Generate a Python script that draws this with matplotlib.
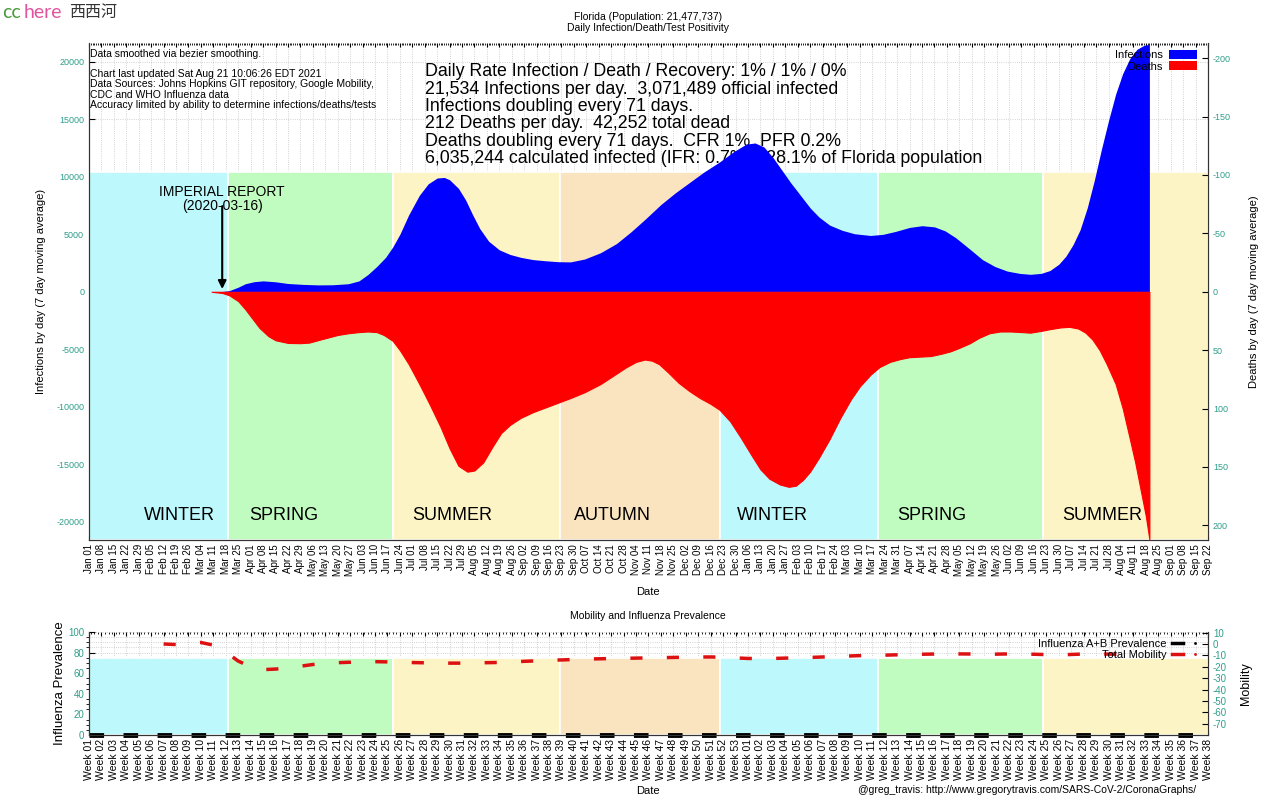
import numpy as np
import pandas as pd
import matplotlib
matplotlib.use('Agg')
import matplotlib.pyplot as plt
import matplotlib.dates as mdates
from matplotlib.patches import Rectangle, Patch
from matplotlib.lines import Line2D
from matplotlib.legend_handler import HandlerTuple

plt.rcParams['font.family'] = ['Liberation Sans', 'DejaVu Sans']
plt.rcParams['axes.unicode_minus'] = False

# ---- data ----
inf_dates = ['2020-03-10', '2020-03-16', '2020-03-20', '2020-03-25', '2020-03-29', '2020-04-03',
             '2020-04-08', '2020-04-15', '2020-04-22', '2020-05-01', '2020-05-09', '2020-05-17',
             '2020-05-26', '2020-06-01', '2020-06-06', '2020-06-11', '2020-06-16', '2020-06-20',
             '2020-06-24', '2020-06-29', '2020-07-05', '2020-07-10', '2020-07-15', '2020-07-19',
             '2020-07-22', '2020-07-27', '2020-07-31', '2020-08-04', '2020-08-08', '2020-08-13',
             '2020-08-19', '2020-08-25', '2020-08-31', '2020-09-07', '2020-09-14', '2020-09-21',
             '2020-09-28', '2020-10-06', '2020-10-15', '2020-10-24', '2020-11-01', '2020-11-09',
             '2020-11-18', '2020-11-26', '2020-12-04', '2020-12-12', '2020-12-21', '2020-12-29',
             '2021-01-05', '2021-01-10', '2021-01-15', '2021-01-20', '2021-01-25', '2021-01-30',
             '2021-02-05', '2021-02-10', '2021-02-15', '2021-02-21', '2021-02-28', '2021-03-07',
             '2021-03-16', '2021-03-23', '2021-03-30', '2021-04-07', '2021-04-14', '2021-04-21',
             '2021-04-27', '2021-05-03', '2021-05-11', '2021-05-18', '2021-05-25', '2021-06-01',
             '2021-06-08', '2021-06-14', '2021-06-20', '2021-06-25', '2021-06-30', '2021-07-04',
             '2021-07-08', '2021-07-12', '2021-07-16', '2021-07-20', '2021-07-24', '2021-07-28',
             '2021-08-01', '2021-08-05', '2021-08-09', '2021-08-13', '2021-08-17', '2021-08-20']
infections = [0, 20, 100, 400, 700, 880,
              950, 870, 720, 640, 600, 610,
              700, 950, 1500, 2200, 3000, 3900,
              5000, 6700, 8400, 9400, 9900, 9950,
              9750, 9000, 8000, 6700, 5500, 4400,
              3650, 3250, 3000, 2800, 2700, 2620,
              2600, 2850, 3400, 4200, 5200, 6300,
              7600, 8600, 9500, 10400, 11300, 12200,
              12850, 12950, 12600, 11700, 10600, 9500,
              8300, 7300, 6500, 5800, 5350, 5050,
              4900, 5000, 5250, 5600, 5750, 5650,
              5300, 4700, 3700, 2800, 2200, 1800,
              1600, 1520, 1600, 1850, 2400, 3100,
              4100, 5400, 7300, 9700, 12400, 14900,
              17200, 19000, 20300, 21100, 21450, 21534]

death_dates = ['2020-03-10', '2020-03-16', '2020-03-20', '2020-03-25', '2020-03-29', '2020-04-02',
               '2020-04-06', '2020-04-11', '2020-04-15', '2020-04-22', '2020-04-29', '2020-05-04',
               '2020-05-10', '2020-05-15', '2020-05-20', '2020-05-26', '2020-06-01', '2020-06-06',
               '2020-06-11', '2020-06-15', '2020-06-20', '2020-06-24', '2020-06-29', '2020-07-05',
               '2020-07-11', '2020-07-17', '2020-07-22', '2020-07-27', '2020-08-01', '2020-08-05',
               '2020-08-10', '2020-08-15', '2020-08-20', '2020-08-25', '2020-08-31', '2020-09-07',
               '2020-09-14', '2020-09-21', '2020-09-28', '2020-10-06', '2020-10-15', '2020-10-22',
               '2020-10-29', '2020-11-04', '2020-11-09', '2020-11-13', '2020-11-17', '2020-11-22',
               '2020-11-28', '2020-12-04', '2020-12-10', '2020-12-16', '2020-12-21', '2020-12-27',
               '2021-01-02', '2021-01-08', '2021-01-13', '2021-01-18', '2021-01-24', '2021-01-29',
               '2021-02-02', '2021-02-06', '2021-02-10', '2021-02-15', '2021-02-21', '2021-02-27',
               '2021-03-05', '2021-03-10', '2021-03-16', '2021-03-21', '2021-03-27', '2021-04-02',
               '2021-04-07', '2021-04-13', '2021-04-19', '2021-04-25', '2021-04-30', '2021-05-05',
               '2021-05-11', '2021-05-16', '2021-05-22', '2021-05-28', '2021-06-03', '2021-06-09',
               '2021-06-14', '2021-06-20', '2021-06-25', '2021-07-01', '2021-07-06', '2021-07-11',
               '2021-07-15', '2021-07-19', '2021-07-23', '2021-07-27', '2021-08-01', '2021-08-05',
               '2021-08-09', '2021-08-12', '2021-08-15', '2021-08-18', '2021-08-20']
deaths = [0, 1, 3, 8, 15, 23,
          31, 38, 41.5, 43.8, 44, 43.5,
          41, 39, 37, 35.5, 34.5, 34,
          34.5, 37, 42, 50, 62, 79,
          97, 116, 134, 149, 154, 153,
          146, 133, 121, 114, 108, 103,
          99, 95, 91, 86, 79, 72,
          65, 60, 58, 59, 62, 69,
          78, 85, 91, 96, 101, 111,
          125, 140, 152, 160, 165, 167,
          166, 161, 154, 142, 126, 108,
          92, 81, 71, 64.5, 60, 57.5,
          56, 55.5, 55, 53, 51, 48,
          44, 39.5, 35.5, 34, 34, 34.5,
          35, 33.5, 32, 30.5, 30, 31.5,
          35, 41, 50, 62, 79, 100,
          126, 146, 169, 192, 212]

# weekly mobility (Google, total) starting at week 07 of 2020
mobility_start = '2020-02-12'
mobility = [0, -0.5, 0.5, 1.3, -1, -7, -15, -20, -22.5, -22, -21, -19.5, -18, -17,
            -16.4, -16, -15.5, -15.5, -15.7, -16, -16.3, -16.5, -16.6, -16.8, -16.8, -16.6,
            -16.4, -16.2, -15.8, -15.2, -14.8, -14.2, -14, -13.6, -13.2, -13, -12.8, -12.6,
            -12.4, -12.2, -12, -11.8, -11.6, -11.4, -11.4, -11.6, -12.2, -12.7, -12.8, -12.7,
            -12.4, -12.1, -11.8, -11.4, -11, -10.6, -10.2, -10, -9.8, -9.5, -9.2, -9,
            -8.8, -8.7, -8.7, -8.8, -9, -8.9, -8.7, -8.8, -9, -9.3, -9.6, -9.2,
            -8.8, -8.7, -8.9, -9]

flu_prevalence = [0, 0, 0, 0, 0, 0, 0, 0, 0, 0, 0, 0, 0, 0, 0, 0, 0, 0, 0, 0,
                  0, 0, 0, 0, 0, 0, 0, 0, 0, 0, 0, 0, 0, 0, 0, 0, 0, 0, 0, 0,
                  0, 0, 0, 0, 0, 0, 0, 0, 0, 0, 0, 0, 0, 0, 0, 0, 0, 0, 0, 0,
                  0, 0, 0, 0, 0, 0, 0, 0, 0, 0, 0, 0, 0, 0, 0, 0, 0, 0, 0, 0,
                  0, 0, 0, 0, 0, 0, 0, 0, 0, 0, 0]

season_bounds = ['2019-12-21', '2020-03-19', '2020-06-20', '2020-09-22', '2020-12-21',
                 '2021-03-20', '2021-06-21', '2021-09-22']
season_names = ['WINTER', 'SPRING', 'SUMMER', 'AUTUMN', 'WINTER', 'SPRING', 'SUMMER']
season_label_dates = ['2020-02-01', '2020-03-31', '2020-07-01', '2020-09-30', '2020-12-31',
                      '2021-03-31', '2021-07-02']
season_colors = {'WINTER': '#bdf9fc', 'SPRING': '#c0fcc0', 'SUMMER': '#fdf4c5', 'AUTUMN': '#fae4c0'}

week_labels = ['Week %02d' % w for w in range(1, 54)] + ['Week %02d' % w for w in range(1, 39)]

info_lines = ['Daily Rate Infection / Death / Recovery: 1% / 1% / 0%',
              '21,534 Infections per day.  3,071,489 official infected',
              'Infections doubling every 71 days.',
              '212 Deaths per day.  42,252 total dead',
              'Deaths doubling every 71 days.  CFR 1%  PFR 0.2%',
              '6,035,244 calculated infected (IFR: 0.7%).  28.1% of Florida population']

notes = ('Data smoothed via bezier smoothing.\n\n'
         'Chart last updated Sat Aug 21 10:06:26 EDT 2021\n'
         'Data Sources: Johns Hopkins GIT repository, Google Mobility,\n'
         'CDC and WHO Influenza data\n'
         'Accuracy limited by ability to determine infections/deaths/tests')

TEAL = '#2f9f8b'
W, H = 1280, 800


def fx(x):
    return x / W


def fy(y):
    return 1 - y / H


x0 = mdates.date2num(pd.Timestamp('2020-01-01'))
x1 = mdates.date2num(pd.Timestamp('2021-09-22'))
week_ticks = mdates.date2num(pd.date_range('2020-01-01', '2021-09-22', freq='7D'))
date_labels = pd.date_range('2020-01-01', '2021-09-22', freq='7D').strftime('%b %d')

fig = plt.figure(figsize=(12.8, 8), dpi=100)

# ---------------- main chart ----------------
ax = fig.add_axes([fx(89), fy(540), fx(1208 - 89), (540 - 43) / H])
ax2 = ax.twinx()
ax.set_xlim(x0, x1)
ax.set_ylim(-21600, 21650)
ax2.set_ylim(212.5, -213)

sb = mdates.date2num(pd.to_datetime(season_bounds))
for i, name in enumerate(season_names):
    ax.add_patch(Rectangle((sb[i], -21600), sb[i + 1] - sb[i], 21600 + 10450,
                           facecolor=season_colors[name], edgecolor='white', lw=1.2, zorder=1))
    ax.text(mdates.date2num(pd.Timestamp(season_label_dates[i])), -19500, name,
            fontsize=13, ha='left', va='center', zorder=2)

for k, line in enumerate(info_lines):
    ax.text(fx(425), fy(72 + k * 17.3), line, transform=fig.transFigure,
            fontsize=12.75, ha='left', va='center', zorder=1.5)
ax.text(fx(90), fy(49), notes, transform=fig.transFigure, fontsize=7.5,
        ha='left', va='top', linespacing=1.02, zorder=1.5)

ix = mdates.date2num(pd.to_datetime(inf_dates))
ax.fill_between(ix, 0, infections, color='#0000ff', lw=0, zorder=3)
dx = mdates.date2num(pd.to_datetime(death_dates))
ax2.fill_between(dx, 0, deaths, color='#ff0000', lw=0.8, edgecolor='#ff0000', zorder=3)

imp = mdates.date2num(pd.Timestamp('2020-03-16'))
ax.annotate('', xy=(imp, 0), xytext=(imp, 7700),
            arrowprops=dict(arrowstyle='-|>', color='black', lw=1.5, mutation_scale=12), zorder=4)
ax.text(imp, 8050, 'IMPERIAL REPORT\n(2020-03-16)', fontsize=10, ha='center', va='center',
        linespacing=1.0, zorder=4)

ax.set_xticks(week_ticks)
ax.set_xticklabels(date_labels, rotation=90, fontsize=7)
ax.set_yticks(np.arange(-20000, 20001, 5000))
ax.tick_params(axis='y', labelsize=6.5, labelcolor=TEAL, direction='in', length=4)
ax.tick_params(axis='x', direction='in', length=3, top=True, pad=3)
ax.xaxis.set_minor_locator(mdates.DayLocator())
ax.tick_params(axis='x', which='minor', direction='in', length=1.5, top=True)
ax2.set_yticks(np.arange(-200, 201, 50))
ax2.tick_params(axis='y', labelsize=6.5, labelcolor=TEAL, direction='in', length=4)
ax.set_axisbelow(True)
ax.grid(True, axis='both', ls=':', color='#c4c4c4', lw=0.6)
for a in (ax, ax2):
    a.spines['top'].set_visible(False)
    for s in ('left', 'right', 'bottom'):
        a.spines[s].set_color('#333333')

ax.set_ylabel('Infections by day (7 day moving average)', fontsize=8)
ax.yaxis.set_label_coords(-0.038, 0.5)
ax2.set_ylabel('Deaths by day (7 day moving average)', fontsize=8)
ax2.yaxis.set_label_coords(1.037, 0.5)

leg = ax2.legend(handles=[Patch(facecolor='#0000ff'), Patch(facecolor='#ff0000')],
                 labels=['Infections', 'Deaths'], loc='upper right', markerfirst=False,
                 frameon=False, fontsize=8, handlelength=2.6, handleheight=0.8,
                 labelspacing=0.1, borderaxespad=0.25, handletextpad=0.5,
                 bbox_to_anchor=(0.997, 1.0))
leg.set_zorder(5)

fig.text(fx(648), fy(17), 'Florida (Population: 21,477,737)', fontsize=7.5, ha='center', va='center')
fig.text(fx(648), fy(28), 'Daily Infection/Death/Test Positivity', fontsize=7.5, ha='center', va='center')
fig.text(fx(648), fy(592), 'Date', fontsize=8, ha='center', va='center')

# ---------------- mobility / influenza chart ----------------
bx = fig.add_axes([fx(89), fy(735), fx(1208 - 89), (735 - 632) / H])
bx2 = bx.twinx()
bx.set_xlim(x0, x1)
bx.set_ylim(0, 100)
bx2.set_ylim(-79.8, 10.5)

for i, name in enumerate(season_names):
    bx.add_patch(Rectangle((sb[i], 0), sb[i + 1] - sb[i], 75,
                           facecolor=season_colors[name], edgecolor='white', lw=1.2, zorder=1))

bx.plot(week_ticks, flu_prevalence, color='black', lw=3.5, ls=(0, (3, 4)), clip_on=False, zorder=4)
mx = mdates.date2num(pd.date_range(mobility_start, periods=len(mobility), freq='7D'))
bx2.plot(mx, mobility, color='#dd1111', lw=2.5, ls=(0, (3.5, 7)), zorder=4)

bx.set_xticks(week_ticks)
bx.set_xticklabels(week_labels, rotation=90, fontsize=7.5)
bx.set_yticks(np.arange(0, 101, 20))
bx.tick_params(axis='y', labelsize=7, labelcolor=TEAL, direction='in', length=4)
bx.tick_params(axis='x', direction='in', length=3, top=True, pad=3)
bx.xaxis.set_minor_locator(mdates.DayLocator(interval=2))
bx.tick_params(axis='x', which='minor', direction='in', length=1.5, top=True)
bx2.set_yticks(np.arange(-70, 11, 10))
bx2.tick_params(axis='y', labelsize=7, labelcolor=TEAL, direction='in', length=4)
bx.set_axisbelow(True)
bx.yaxis.set_minor_locator(matplotlib.ticker.MultipleLocator(5))
bx.grid(True, which='both', axis='y', ls=':', color='#c4c4c4', lw=0.6)
bx.grid(True, which='major', axis='x', ls=':', color='#c4c4c4', lw=0.6)
for a in (bx, bx2):
    a.spines['top'].set_visible(False)
    for s in ('left', 'right', 'bottom'):
        a.spines[s].set_color('#333333')

bx.set_ylabel('Influenza Prevalence', fontsize=9.5)
bx.yaxis.set_label_coords(-0.021, 0.5)
bx2.set_ylabel('Mobility', fontsize=9)
bx2.yaxis.set_label_coords(1.029, 0.5)

h_flu = (Line2D([], [], color='black', lw=2.5), Line2D([], [], color='black', marker='.', ms=2, ls='none'))
h_mob = (Line2D([], [], color='#dd1111', lw=2.5), Line2D([], [], color='#dd1111', marker='.', ms=2, ls='none'))
bleg = bx2.legend(handles=[h_flu, h_mob], labels=['Influenza A+B Prevalence', 'Total Mobility'],
                  handler_map={tuple: HandlerTuple(ndivide=None, pad=0.6)},
                  loc='upper right', markerfirst=False, frameon=False, fontsize=8,
                  handlelength=2.6, labelspacing=0.05, borderaxespad=0.25, handletextpad=0.5)

fig.text(fx(648), fy(616), 'Mobility and Influenza Prevalence', fontsize=7.5, ha='center', va='center')
fig.text(fx(648), fy(791), 'Date', fontsize=8, ha='center', va='center')
fig.text(fx(1196), fy(790), '@greg_travis: http://www.gregorytravis.com/SARS-CoV-2/CoronaGraphs/',
         fontsize=7.5, ha='right', va='center')

# watermark
fig.text(fx(2), fy(12), 'cc', color='#4a9a3c', fontsize=14, ha='left', va='center',
         family=['Lato', 'DejaVu Sans'])
fig.text(fx(24), fy(12), 'here', color='#e0559e', fontsize=14, ha='left', va='center',
         family=['Lato', 'DejaVu Sans'])
fig.text(fx(69), fy(12), '西西河', color='#333333', fontsize=11.5, ha='left', va='center',
         family=['Noto Sans CJK SC', 'DejaVu Sans'])

fig.savefig('out.png', dpi=100)
